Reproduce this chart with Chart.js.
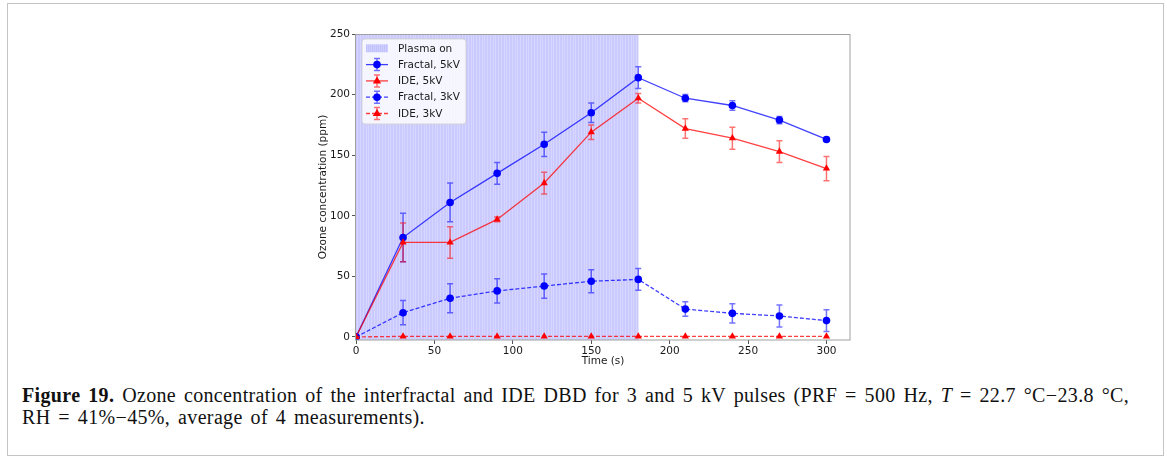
<!DOCTYPE html>
<html>
<head>
<meta charset="utf-8">
<script src="https://cdn.jsdelivr.net/npm/chart.js@4/dist/chart.umd.min.js"></script>
<style>
  html, body { margin: 0; padding: 0; background: #fff; }
  body { width: 1167px; height: 457px; position: relative; overflow: hidden; }
  #frame { position: absolute; left: 7px; top: 3px; width: 1157px; height: 453px;
           box-sizing: border-box; border: 1.5px solid #c4c4c4; }
  #wrap { position: absolute; left: 317px; top: 24px; width: 548px; height: 345px; }
  #caption { position: absolute; left: 22px; top: 384px; font-family: "Liberation Serif", serif;
             font-size: 20px; line-height: 22px; color: #111; white-space: nowrap;
             letter-spacing: 0.35px; word-spacing: 2.5px; }
  #caption b { font-weight: bold; }
</style>
</head>
<body>
<div id="frame"></div>
<div id="wrap"><canvas id="c" width="548" height="345"></canvas></div>
<div id="caption"><b>Figure 19.</b> Ozone concentration of the interfractal and IDE DBD for 3 and 5 kV pulses (PRF = 500 Hz, <i>T</i> = 22.7 °C−23.8 °C,<br>RH = 41%−45%, average of 4 measurements).</div>
<script>
// Sampling times (s)
const times = [0, 30, 60, 90, 120, 150, 180, 210, 240, 270, 300];

// Ozone concentration (ppm) and standard deviation per series
const fractal5 = [0, 82, 111, 135, 159, 185, 214, 197, 191, 179, 163];
const fractal5Err = [0, 20, 16, 9, 10, 8, 9, 3, 4, 3, 1.5];
const ide5 = [0, 78, 78, 97, 127, 169, 197, 172, 164, 153, 139];
const ide5Err = [0, 16, 13, 2, 9, 6, 4, 8, 9, 9, 10];
const fractal3 = [0, 20, 32, 38, 42, 46, 47.5, 23, 19.5, 17.3, 13.5];
const fractal3Err = [0, 10, 12, 10, 10, 9.5, 9, 6, 8, 9, 9];
const ide3 = [0, 0.5, 0.5, 0.5, 0.5, 0.5, 0.5, 0.5, 0.5, 0.5, 0.5];
const ide3Err = [0, 0, 0, 0, 0, 0, 0, 0, 0, 0, 0];

// Plasma discharge interval (s)
const plasmaStart = 0;
const plasmaEnd = 180;

const labels = ['Plasma on', 'Fractal, 5kV', 'IDE, 5kV', 'Fractal, 3kV', 'IDE, 3kV'];
const xTicks = [0, 50, 100, 150, 200, 250, 300];
const yTicks = [0, 50, 100, 150, 200, 250];

const FONT = 'DejaVu Sans';
const BLUE = 'rgb(0,0,255)', RED = 'rgb(255,0,0)';

function pts(ys) { return times.map((t, i) => ({ x: t, y: ys[i] })); }

const series = [
  { label: labels[1], data: fractal5, err: fractal5Err, color: BLUE, rgb: '0,0,255', marker: 'circle', dash: [] },
  { label: labels[2], data: ide5, err: ide5Err, color: RED, rgb: '255,0,0', marker: 'triangle', dash: [] },
  { label: labels[3], data: fractal3, err: fractal3Err, color: BLUE, rgb: '0,0,255', marker: 'circle', dash: [4, 2] },
  { label: labels[4], data: ide3, err: ide3Err, color: RED, rgb: '255,0,0', marker: 'triangle', dash: [4, 2] }
];

const datasets = series.map((s, i) => ({
  label: s.label,
  data: pts(s.data),
  errors: s.err,
  borderColor: 'rgba(' + s.rgb + ',0.75)',
  borderWidth: 1.3,
  borderDash: s.dash,
  pointStyle: s.marker,
  pointRadius: s.marker === 'circle' ? 3.8 : 4.2,
  pointBackgroundColor: s.color,
  pointBorderColor: s.color,
  pointBorderWidth: 0,
  tension: 0,
  fill: false,
  order: series.length - i
}));

// Shaded "plasma on" span with thin per-second edges
const spanPlugin = {
  id: 'plasmaSpan',
  beforeDatasetsDraw(chart) {
    const { ctx, chartArea: a, scales: { x } } = chart;
    const x0 = x.getPixelForValue(plasmaStart), x1 = x.getPixelForValue(plasmaEnd);
    ctx.save();
    ctx.beginPath(); ctx.rect(a.left, a.top, a.right - a.left, a.bottom - a.top); ctx.clip();
    ctx.fillStyle = 'rgba(0,0,255,0.16)';
    ctx.fillRect(x0, a.top, x1 - x0, a.bottom - a.top);
    ctx.fillStyle = 'rgba(0,0,255,0.06)';
    for (let s = plasmaStart; s <= plasmaEnd; s++) {
      const px = Math.round(x.getPixelForValue(s));
      ctx.fillRect(px, a.top, 1, a.bottom - a.top);
    }
    ctx.restore();
  }
};

// Vertical error bars with caps
const errorPlugin = {
  id: 'errorBars',
  beforeDatasetsDraw(chart) {
    const { ctx, scales: { x, y } } = chart;
    ctx.save();
    chart.data.datasets.forEach((ds, di) => {
      const s = series[di];
      ctx.strokeStyle = 'rgba(' + s.rgb + ',0.55)';
      ctx.lineWidth = 1.5;
      ds.data.forEach((p, i) => {
        const e = ds.errors[i];
        if (!e) return;
        const px = x.getPixelForValue(p.x);
        const top = y.getPixelForValue(p.y + e), bot = y.getPixelForValue(p.y - e);
        ctx.beginPath();
        ctx.moveTo(px, top); ctx.lineTo(px, bot);
        ctx.moveTo(px - 3, top); ctx.lineTo(px + 3, top);
        ctx.moveTo(px - 3, bot); ctx.lineTo(px + 3, bot);
        ctx.stroke();
      });
    });
    ctx.restore();
  }
};

// Axes frame and legend box
const framePlugin = {
  id: 'frameLegend',
  afterDraw(chart) {
    const { ctx, chartArea: a } = chart;
    ctx.save();
    ctx.strokeStyle = '#a0a0a0';
    ctx.lineWidth = 1;
    ctx.strokeRect(a.left - 0.5, a.top + 0.5, a.right - a.left + 0.5, a.bottom - a.top - 0.5);

    // legend
    const lx = a.left + 6, ly = a.top + 5, lw = 104, lh = 85, r = 3;
    ctx.fillStyle = 'rgba(255,255,255,0.8)';
    ctx.strokeStyle = 'rgba(204,204,204,0.8)';
    ctx.beginPath();
    ctx.roundRect(lx, ly, lw, lh, r);
    ctx.fill(); ctx.stroke();

    const rowH = 16.3, y0 = ly + 9.3, hx0 = lx + 4, hx1 = lx + 26, tx = lx + 36;
    ctx.font = '10.5px "' + FONT + '"';
    ctx.textBaseline = 'middle';
    ctx.textAlign = 'left';
    labels.forEach((lab, i) => {
      const yy = y0 + i * rowH;
      if (i === 0) {
        ctx.fillStyle = 'rgba(0,0,255,0.16)';
        ctx.fillRect(hx0, yy - 4, hx1 - hx0, 8);
        ctx.fillStyle = 'rgba(0,0,255,0.06)';
        for (let k = hx0; k < hx1; k += 2) ctx.fillRect(k, yy - 4, 1, 8);
      } else {
        const s = series[i - 1];
        const mx = (hx0 + hx1) / 2;
        ctx.strokeStyle = 'rgba(' + s.rgb + ',0.75)';
        ctx.lineWidth = 1.3;
        ctx.setLineDash(s.dash);
        ctx.beginPath(); ctx.moveTo(hx0, yy); ctx.lineTo(hx1, yy); ctx.stroke();
        ctx.setLineDash([]);
        ctx.strokeStyle = 'rgba(' + s.rgb + ',0.55)';
        ctx.lineWidth = 1.5;
        ctx.beginPath();
        ctx.moveTo(mx, yy - 6); ctx.lineTo(mx, yy + 6);
        ctx.moveTo(mx - 3, yy - 6); ctx.lineTo(mx + 3, yy - 6);
        ctx.moveTo(mx - 3, yy + 6); ctx.lineTo(mx + 3, yy + 6);
        ctx.stroke();
        ctx.fillStyle = s.color;
        ctx.beginPath();
        if (s.marker === 'circle') {
          ctx.arc(mx, yy, 3.8, 0, Math.PI * 2);
        } else {
          ctx.moveTo(mx, yy - 4.5); ctx.lineTo(mx + 4.2, yy + 2.6); ctx.lineTo(mx - 4.2, yy + 2.6); ctx.closePath();
        }
        ctx.fill();
      }
      ctx.fillStyle = '#1a1a1a';
      ctx.fillText(lab, tx, yy + 0.5);
    });
    ctx.restore();
  }
};

new Chart(document.getElementById('c'), {
  type: 'line',
  data: { datasets },
  plugins: [spanPlugin, errorPlugin, framePlugin],
  options: {
    responsive: false,
    animation: false,
    layout: { padding: { top: 10, right: 15, bottom: 1, left: 0 } },
    plugins: { legend: { display: false }, tooltip: { enabled: false } },
    scales: {
      x: {
        type: 'linear', min: 0, max: 315,
        afterFit(s) { s.height = 28; },
        afterBuildTicks(s) { s.ticks = xTicks.map(v => ({ value: v })); },
        border: { display: false },
        grid: { display: true, drawOnChartArea: false, drawTicks: true, tickLength: 4, color: '#555', tickWidth: 1 },
        ticks: { font: { family: FONT, size: 10.5 }, color: '#1a1a1a', padding: 1, maxRotation: 0 },
        title: { display: true, text: 'Time (s)', font: { family: FONT, size: 10.5 }, color: '#1a1a1a', padding: { top: -2, bottom: 0 } }
      },
      y: {
        type: 'linear', min: -2.5, max: 250,
        afterFit(s) { s.width = 39; },
        afterBuildTicks(s) { s.ticks = yTicks.map(v => ({ value: v })); },
        border: { display: false },
        grid: { display: true, drawOnChartArea: false, drawTicks: true, tickLength: 4, color: '#555', tickWidth: 1 },
        ticks: { font: { family: FONT, size: 10.5 }, color: '#1a1a1a', padding: 2 },
        title: { display: true, text: 'Ozone concentration (ppm)', font: { family: FONT, size: 10.5 }, color: '#1a1a1a', padding: { top: 0, bottom: 2 } }
      }
    }
  }
});
</script>
</body>
</html>
